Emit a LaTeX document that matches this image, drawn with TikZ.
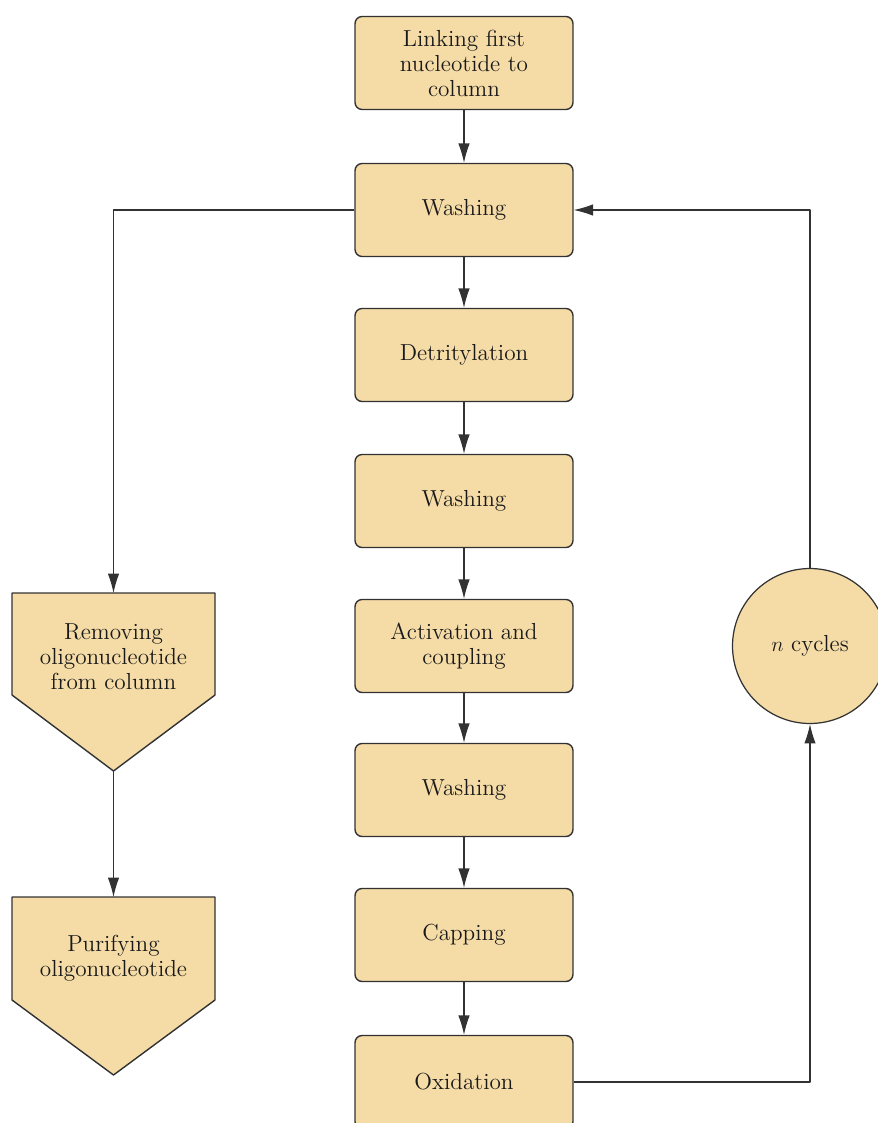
\documentclass[tikz,border=0pt]{standalone}
\usepackage{tikz}
\usetikzlibrary{arrows.meta}
\usepackage{xcolor}
\definecolor{tan}{RGB}{245,220,167}
\definecolor{ink}{RGB}{50,50,50}

\begin{document}
\begin{tikzpicture}[x=0.02cm,y=-0.02cm,line join=round,
  stepbox/.style={draw=ink,line width=0.8pt,fill=tan,rounded corners=4pt,
    minimum width=4.36cm,minimum height=1.86cm,align=center,
    font=\fontsize{13.2}{14.2}\selectfont,text=black!90},
  cyclenode/.style={draw=ink,line width=0.7pt,fill=tan,circle,minimum size=3.1cm,
    font=\fontsize{13.2}{14.2}\selectfont,text=black!90},
  endtext/.style={align=center,font=\fontsize{13.2}{14.2}\selectfont,text=black!90},
  pent/.style={draw=ink,line width=0.8pt,fill=tan},
  flow/.style={draw=ink,line width=0.6pt,-{Latex[length=11pt,width=6.5pt]}}]
\useasboundingbox (0,0) rectangle (878,1123);
\clip (0,0) rectangle (878,1123);
\node[stepbox] (link) at (464,63) {Linking first\\nucleotide to\\column};
\node[stepbox] (wash1) at (464,210) {Washing};
\node[stepbox] (detrit) at (464,355) {Detritylation};
\node[stepbox] (wash2) at (464,501) {Washing};
\node[stepbox] (activ) at (464,646) {Activation and\\coupling};
\node[stepbox] (wash3) at (464,790) {Washing};
\node[stepbox] (capping) at (464,935) {Capping};
\node[stepbox] (oxid) at (464,1082) {Oxidation};
\node[cyclenode] (cycles) at (810,646) {$n$ cycles};
\draw[pent] (12,593) -- (215,593) -- (215,695) -- (113.5,771) -- (12,695) -- cycle;
\coordinate (rmtop) at (113.5,593);
\coordinate (rmtip) at (113.5,771);
\node[endtext] (remove) at (113.5,657) {Removing\\oligonucleotide\\from column};
\draw[pent] (12,897) -- (215,897) -- (215,1000) -- (113.5,1075) -- (12,1000) -- cycle;
\coordinate (putop) at (113.5,897);
\node[endtext] (purify) at (113.5,958) {Purifying\\oligonucleotide};
\draw[flow] (link) -- (wash1);
\draw[flow] (wash1) -- (detrit);
\draw[flow] (detrit) -- (wash2);
\draw[flow] (wash2) -- (activ);
\draw[flow] (activ) -- (wash3);
\draw[flow] (wash3) -- (capping);
\draw[flow] (capping) -- (oxid);
\draw[flow] (wash1.west) -| (rmtop);
\draw[flow] (rmtip) -- (putop);
\draw[flow] (oxid.east) -| (cycles.south);
\draw[flow] (cycles.north) |- (wash1.east);
\end{tikzpicture}
\end{document}
